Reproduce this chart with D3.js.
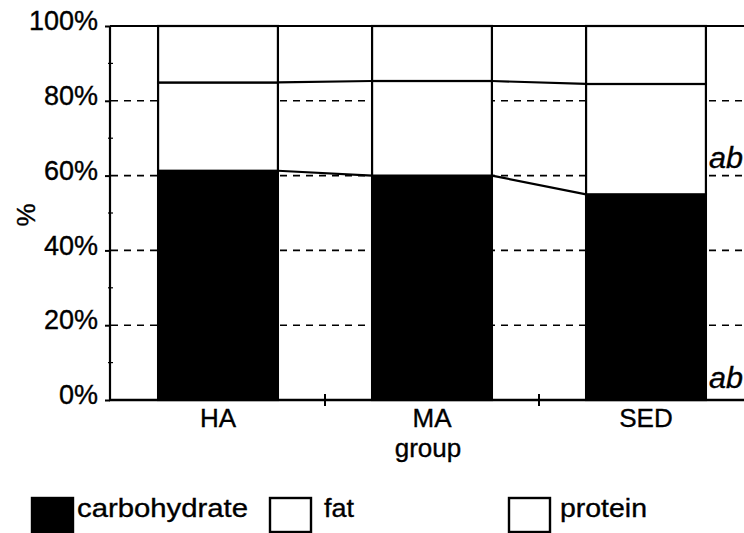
<!DOCTYPE html>
<html><head><meta charset="utf-8">
<script src="https://cdn.jsdelivr.net/npm/d3@7"></script>
<style>
html,body{margin:0;padding:0;background:#fff;}
svg text{font-family:"Liberation Sans",Arial,Helvetica,sans-serif;fill:#000;stroke:#000;stroke-width:0.35px;}
</style></head>
<body>
<svg id="c" width="744" height="533"></svg>
<script>
const groups = ["HA", "MA", "SED"];
const carbohydrate = [61.3, 60.0, 55.0];
const fat = [23.6, 25.3, 29.5];
const protein = [15.1, 14.7, 15.5];
const seriesNames = ["carbohydrate", "fat", "protein"];
const yTicks = [0, 20, 40, 60, 80, 100];
const yMinorTicks = [10, 30, 50, 70, 90];
const annotations = [{text: "ab", value: 68}, {text: "ab", value: 4}];

const svg = d3.select("#c");
const x = d3.scaleBand().domain(groups).range([111, 753]).padding(0);
const y = d3.scaleLinear().domain([0, 100]).range([400, 26]);
const barW = x.bandwidth() * 0.56;
const barX = g => x(g) + (x.bandwidth() - barW) / 2;

// data table built from arrays
const rows = groups.map((g, i) => ({group: g, carbohydrate: carbohydrate[i], fat: fat[i], protein: protein[i]}));
const stack = d3.stack().keys(seriesNames)(rows);
const fills = {carbohydrate: "#000", fat: "#fff", protein: "#fff"};

// dashed gridlines
svg.append("g").selectAll("line").data(yTicks.filter(d => d > 0 && d < 100)).join("line")
  .attr("x1", 111).attr("x2", 753).attr("y1", d => y(d)).attr("y2", d => y(d))
  .attr("stroke", "#000").attr("stroke-width", 1.6).attr("stroke-dasharray", "7,6");

// top border
svg.append("line").attr("x1", 110).attr("x2", 753).attr("y1", y(100)).attr("y2", y(100))
  .attr("stroke", "#000").attr("stroke-width", 2.2);

// bars
stack.forEach(s => {
  svg.append("g").selectAll("rect").data(s).join("rect")
    .attr("x", d => barX(d.data.group)).attr("width", barW)
    .attr("y", d => y(d[1])).attr("height", d => y(d[0]) - y(d[1]))
    .attr("fill", fills[s.key]).attr("stroke", "#000").attr("stroke-width", 2.2);
});

// series lines between bars
stack.slice(0, 2).forEach(s => {
  for (let i = 0; i < s.length - 1; i++) {
    svg.append("line")
      .attr("x1", barX(groups[i]) + barW).attr("y1", y(s[i][1]))
      .attr("x2", barX(groups[i + 1])).attr("y2", y(s[i + 1][1]))
      .attr("stroke", "#000").attr("stroke-width", 2.2);
  }
});

// y axis
const yAxis = svg.append("g").attr("transform", "translate(110,0)")
  .call(d3.axisLeft(y).tickValues(yTicks).tickSize(5).tickPadding(7).tickFormat(d => d + "%"));
yAxis.select(".domain").attr("stroke-width", 2.2).attr("d", `M0,${y(0)}V${y(100)}`);
yAxis.selectAll(".tick line").attr("stroke-width", 2);
yAxis.selectAll("text").attr("font-size", 27).attr("dy", "0.14em")
  .attr("font-family", "Liberation Sans, Arial, sans-serif");
svg.append("g").selectAll("line").data(yMinorTicks).join("line")
  .attr("x1", 108).attr("x2", 113).attr("y1", d => y(d)).attr("y2", d => y(d))
  .attr("stroke", "#000").attr("stroke-width", 1.2);

// x axis
svg.append("line").attr("x1", 109).attr("x2", 753).attr("y1", y(0)).attr("y2", y(0))
  .attr("stroke", "#000").attr("stroke-width", 2.4);
const xAxis = svg.append("g").attr("transform", `translate(0,${y(0)})`)
  .call(d3.axisBottom(x).tickSize(0).tickPadding(9));
xAxis.select(".domain").remove();
xAxis.selectAll("text").attr("font-size", 26).attr("dy", "0.71em")
  .attr("font-family", "Liberation Sans, Arial, sans-serif");
svg.append("g").selectAll("line").data(groups.slice(1)).join("line")
  .attr("x1", d => x(d)).attr("x2", d => x(d)).attr("y1", y(0) - 6).attr("y2", y(0) + 6)
  .attr("stroke", "#000").attr("stroke-width", 2);

// axis titles
svg.append("text").attr("x", x("MA") + x.bandwidth() / 2 - 4).attr("y", 457)
  .attr("text-anchor", "middle").attr("font-size", 26).text("group");
svg.append("text").attr("transform", "translate(35,215) rotate(-90)")
  .attr("text-anchor", "middle").attr("font-size", 26).text("%");

// annotations
annotations.forEach((a, i) => {
  svg.append("text").attr("x", 709).attr("y", i === 0 ? 168 : 388)
    .attr("font-size", 30).attr("font-style", "italic")
    .attr("font-family", "DejaVu Sans, sans-serif")
    .attr("textLength", 34).attr("lengthAdjust", "spacingAndGlyphs").text(a.text);
});

// legend
const legendPos = [{sx: 32, tx: 77, tw: 171}, {sx: 270, tx: 324, tw: 30}, {sx: 509, tx: 560, tw: 87}];
seriesNames.forEach((n, i) => {
  const p = legendPos[i];
  svg.append("rect").attr("x", p.sx).attr("y", 498).attr("width", 41).attr("height", 34)
    .attr("fill", fills[n]).attr("stroke", "#000").attr("stroke-width", 2.4);
  svg.append("text").attr("x", p.tx).attr("y", 517).attr("font-size", 26)
    .attr("textLength", p.tw).attr("lengthAdjust", "spacingAndGlyphs").text(n);
});
</script>
</body></html>
